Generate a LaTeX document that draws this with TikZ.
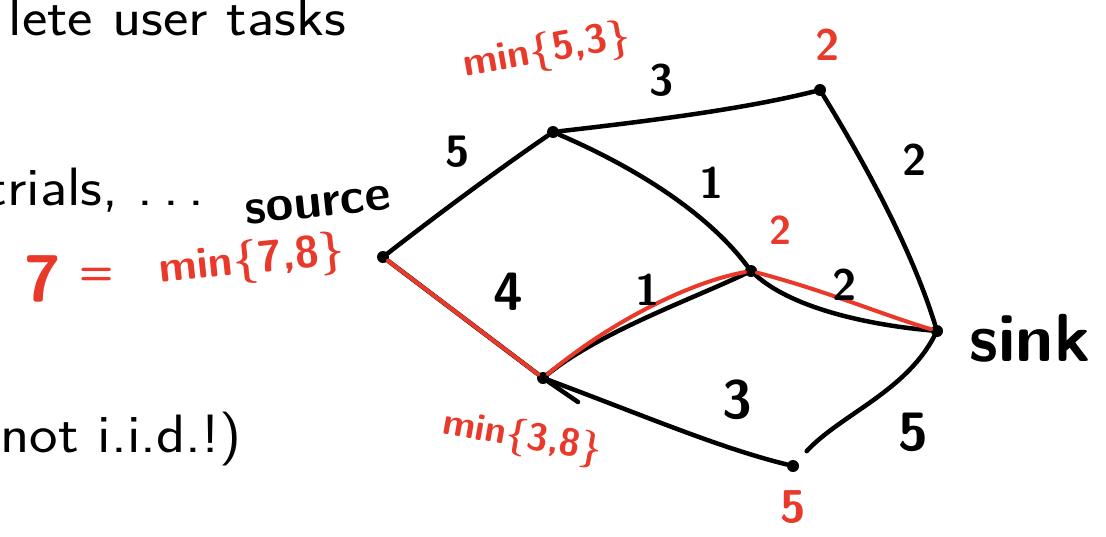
\documentclass[tikz,border=0pt]{standalone}
\usepackage{fontspec}
\definecolor{pen}{HTML}{E8392A}
\begin{document}
\begin{tikzpicture}[x=1pt,y=-1pt,
  stroke/.style={line width=4.5pt,line cap=round,line join=round},
  blk/.style={stroke,black},
  rd/.style={stroke,pen,line width=4pt},
  dot/.style={circle,fill=black,inner sep=0pt,minimum size=12pt},
  lab/.style={font=\fontsize{44}{48}\selectfont\sffamily\bfseries,inner sep=0pt},
  biglab/.style={lab,font=\fontsize{54}{58}\selectfont\sffamily\bfseries},
  rlab/.style={lab,text=pen},
  slide/.style={font=\fontsize{54}{60}\selectfont\sffamily,inner sep=0pt,xscale=1.12,transform shape}]
\useasboundingbox (0,0) rectangle (1106,536);
\clip (0,0) rectangle (1106,536);
\fill[white] (0,0) rectangle (1106,536);
% slide text
\node[slide,anchor=base east] (t1) at (346,35) {lete user tasks};
\node[slide,anchor=base east] (t2) at (205,205) {trials, .\,.\,.};
\node[slide,anchor=base east] (t3) at (242,452) {not i.i.d.!)};
% vertices
\node[dot] (src) at (383,257) {};
\node[dot] (top) at (553,132) {};
\node[dot] (tr) at (820,90) {};
\node[dot] (mid) at (751,271) {};
\node[dot] (sink) at (937,331) {};
\node[dot] (bot) at (543,378) {};
\node[dot] (br) at (793,466) {};
\coordinate (tail) at (578,402);
% black edges
\draw[blk] (src) .. controls (450,205) and (505,165) .. (top);
\draw[blk] (top) .. controls (640,122) and (740,110) .. (tr);
\draw[blk] (tr) .. controls (866,165) and (912,250) .. (sink);
\draw[blk] (top) .. controls (630,165) and (705,210) .. (mid);
\draw[blk] (src) -- (bot);
\draw[blk] (bot) -- (tail);
\draw[blk] (bot) .. controls (600,332) and (690,300) .. (mid);
\draw[blk] (bot) .. controls (650,418) and (720,448) .. (br);
\draw[blk,shorten <=14pt] (br) .. controls (840,415) and (905,392) .. (sink);
\draw[blk] (mid) .. controls (790,306) and (860,324) .. (sink);
% red path
\draw[rd] (src) -- (bot);
\draw[rd] (bot) .. controls (610,322) and (690,282) .. (mid);
\draw[rd] (mid) .. controls (830,292) and (880,314) .. (sink);
% edge labels
\node[lab] (l1) at (458,152) {5};
\node[lab] (l2) at (662,80) {3};
\node[lab] (l3) at (915,160) {2};
\node[lab] (l4) at (712,183) {1};
\node[biglab] (l5) at (508,292) {4};
\node[lab] (l6) at (648,290) {1};
\node[lab] (l7) at (845,285) {2};
\node[biglab] (l8) at (737,400) {3};
\node[biglab] (l9) at (913,432) {5};
% red annotations
\node[rlab,font=\fontsize{40}{44}\selectfont\sffamily\bfseries,rotate=10] (a1) at (547,52) {min\{5,3\}};
\node[rlab] (a2) at (828,45) {2};
\node[rlab,font=\fontsize{40}{40}\selectfont\sffamily\bfseries] (a3) at (780,230) {2};
\node[rlab,font=\fontsize{66}{66}\selectfont\sffamily\bfseries] (a4) at (43,279) {7};
\node[rlab,font=\fontsize{40}{40}\selectfont\sffamily\bfseries] (a5) at (97,276) {=};
\node[rlab,rotate=6] (a6) at (252,262) {min\{7,8\}};
\node[rlab,font=\fontsize{38}{40}\selectfont\sffamily\bfseries,rotate=-10] (a7) at (522,438) {min\{3,8\}};
\node[rlab,font=\fontsize{46}{46}\selectfont\sffamily\bfseries] (a8) at (793,507) {5};
% black annotations
\node[lab,font=\fontsize{50}{50}\selectfont\sffamily\bfseries,rotate=6] (s1) at (318,205) {source};
\node[lab,font=\fontsize{68}{68}\selectfont\sffamily\bfseries] (s2) at (1030,338) {sink};
\end{tikzpicture}
\end{document}
